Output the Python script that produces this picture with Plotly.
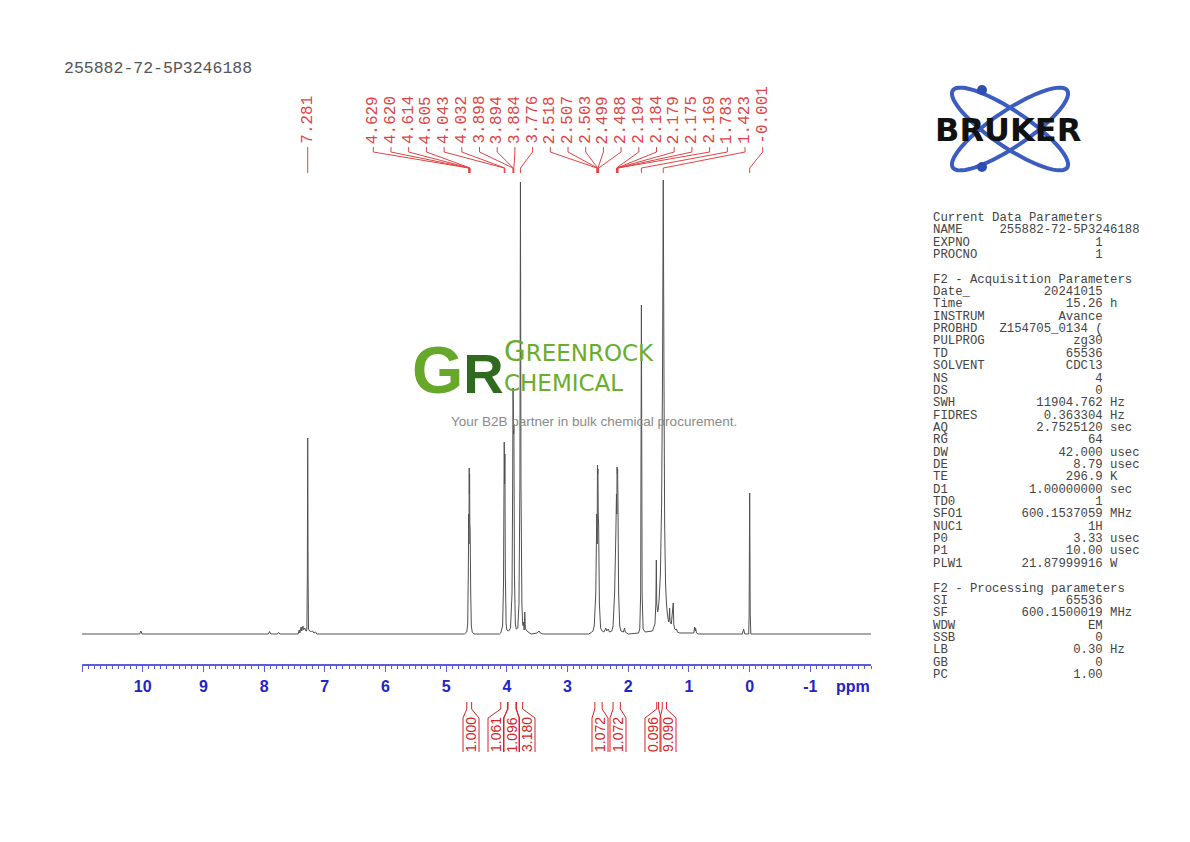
import numpy as np
import plotly.graph_objects as go

W, H = 1190, 842

# spectrum outline: (ppm, intensity above baseline)
spectrum_pts = [
    (11.0, 0), (10.05, 0), (10.03, 3), (10.01, 0),
    (7.93, 0), (7.91, 2.5), (7.89, 0), (7.78, 0), (7.76, 1.5), (7.74, 0),
    (7.44, 0), (7.42, 4), (7.41, 1), (7.39, 7), (7.38, 3), (7.36, 8), (7.35, 4),
    (7.33, 6), (7.31, 3), (7.30, 3), (7.295, 5), (7.287, 60), (7.281, 196),
    (7.275, 60), (7.268, 5), (7.25, 3), (7.22, 2.5), (7.20, 3), (7.18, 1),
    (7.15, 2), (7.13, 0),
    (4.70, 0), (4.66, 2), (4.645, 10), (4.635, 60), (4.629, 120), (4.624, 90),
    (4.620, 166), (4.617, 140), (4.614, 160), (4.610, 110), (4.605, 105),
    (4.595, 40), (4.585, 8), (4.57, 2), (4.54, 0),
    (4.12, 0), (4.10, 1), (4.07, 8), (4.055, 50), (4.043, 192), (4.037, 150),
    (4.032, 180), (4.025, 60), (4.012, 10), (4.00, 4), (3.97, 3),
    (3.94, 6), (3.915, 40), (3.905, 140), (3.898, 246), (3.894, 230),
    (3.888, 200), (3.884, 210), (3.875, 60), (3.86, 10), (3.845, 5),
    (3.82, 6), (3.80, 30), (3.785, 150), (3.776, 452), (3.767, 150),
    (3.752, 30), (3.74, 10), (3.73, 8), (3.72, 12), (3.715, 4), (3.705, 22),
    (3.695, 6), (3.68, 4), (3.65, 2), (3.60, 0), (3.50, 1), (3.47, 3),
    (3.45, 1), (3.40, 0),
    (2.65, 0), (2.60, 2), (2.58, 3), (2.56, 8), (2.535, 40), (2.518, 120),
    (2.512, 90), (2.507, 169), (2.503, 160), (2.499, 165), (2.494, 120),
    (2.488, 110), (2.475, 30), (2.455, 6), (2.43, 3), (2.40, 2), (2.37, 6),
    (2.355, 3), (2.33, 5), (2.31, 2), (2.27, 3), (2.25, 8), (2.225, 40),
    (2.204, 100), (2.194, 140), (2.188, 120), (2.184, 167), (2.179, 160),
    (2.175, 165), (2.169, 130), (2.158, 40), (2.14, 8), (2.12, 3), (2.08, 2),
    (2.06, 6), (2.05, 2), (2.00, 0),
    (1.83, 1), (1.81, 5), (1.795, 40), (1.783, 329), (1.771, 40), (1.755, 5),
    (1.72, 2), (1.60, 3), (1.56, 10), (1.545, 30), (1.537, 74), (1.530, 30),
    (1.515, 22), (1.505, 25), (1.49, 35), (1.47, 60), (1.45, 130),
    (1.435, 260), (1.423, 454), (1.411, 260), (1.40, 110), (1.385, 50),
    (1.37, 30), (1.355, 20), (1.335, 12), (1.325, 15), (1.318, 26),
    (1.311, 12), (1.29, 10), (1.258, 31), (1.250, 10), (1.235, 5), (1.21, 4),
    (1.203, 5), (1.19, 2), (1.15, 1),
    (0.92, 1), (0.906, 7), (0.898, 3), (0.89, 6), (0.875, 1), (0.85, 0),
    (0.12, 0), (0.099, 5), (0.08, 0), (0.015, 0), (0.008, 20), (-0.001, 141),
    (-0.010, 20), (-0.02, 0), (-2.0, 0),
]

peak_labels = ['7.281', '4.629', '4.620', '4.614', '4.605', '4.043', '4.032',
               '3.898', '3.894', '3.884', '3.776', '2.518', '2.507', '2.503',
               '2.499', '2.488', '2.194', '2.184', '2.179', '2.175', '2.169',
               '1.783', '1.423', '-0.001']

integral_vals = ['1.000', '1.061', '1.096', '3.180', '1.072', '1.072', '0.096', '9.090']
integral_from = [4.66, 4.10, 3.98, 3.84, 2.55, 2.25, 1.53, 1.44]
integral_to = [4.58, 3.99, 3.85, 3.74, 2.43, 2.13, 1.50, 1.37]

tick_vals = [11, 10, 9, 8, 7, 6, 5, 4, 3, 2, 1, 0, -1]
tick_text = ['', '10', '9', '8', '7', '6', '5', '4', '3', '2', '1', '0', '-1']

current_params = [('NAME', '255882-72-5P3246188', ''), ('EXPNO', '1', ''),
                  ('PROCNO', '1', '')]
acq_params = [('Date_', '20241015', ''), ('Time', '15.26', 'h'),
              ('INSTRUM', 'Avance', ''), ('PROBHD', 'Z154705_0134 (', ''),
              ('PULPROG', 'zg30', ''), ('TD', '65536', ''),
              ('SOLVENT', 'CDCl3', ''), ('NS', '4', ''), ('DS', '0', ''),
              ('SWH', '11904.762', 'Hz'), ('FIDRES', '0.363304', 'Hz'),
              ('AQ', '2.7525120', 'sec'), ('RG', '64', ''),
              ('DW', '42.000', 'usec'), ('DE', '8.79', 'usec'),
              ('TE', '296.9', 'K'), ('D1', '1.00000000', 'sec'),
              ('TD0', '1', ''), ('SFO1', '600.1537059', 'MHz'),
              ('NUC1', '1H', ''), ('P0', '3.33', 'usec'),
              ('P1', '10.00', 'usec'), ('PLW1', '21.87999916', 'W')]
proc_params = [('SI', '65536', ''), ('SF', '600.1500019', 'MHz'),
               ('WDW', 'EM', ''), ('SSB', '0', ''), ('LB', '0.30', 'Hz'),
               ('GB', '0', ''), ('PC', '1.00', '')]

sample_name = '255882-72-5P3246188'

# ---- layout helpers (pixel positions of the reference page) ----
X0, X1, Y0, Y1 = 82, 871, 180, 664
PPM_L, PPM_R = 11.0, -2.0


def px2ppm(p):
    return PPM_L + (p - X0) * (PPM_R - PPM_L) / (X1 - X0)


def ppm2px(v):
    return X0 + (v - PPM_L) * (X1 - X0) / (PPM_R - PPM_L)


def fx(p):
    return p / W


def fy(p):
    return 1 - p / H


RED = '#e04444'
BLUE = '#2323c8'
shapes = []
annotations = []

# top peak labels with their legs
label_px = [ppm2px(7.281)] + [373.3 + i * 17.7 for i in range(len(peak_labels) - 1)]
for lab, lx in zip(peak_labels, label_px):
    p = float(lab)
    shapes.append(dict(type='path', xref='x', yref='paper',
                       path='M {a},{y1} L {a},{y2} L {b},{y3} L {b},{y4}'.format(
                           a=px2ppm(lx), b=p, y1=fy(147), y2=fy(152), y3=fy(168), y4=fy(173)),
                       line=dict(color=RED, width=1)))
    annotations.append(dict(text=lab, x=fx(lx), y=fy(146), xref='paper', yref='paper',
                            xanchor='center', yanchor='bottom', textangle=-90, showarrow=False,
                            font=dict(family='Liberation Mono', size=16, color=RED)))

# integral brackets and values
integ_label_px = [471, 496, 511.5, 527, 600, 618, 653, 668]
for val, a, b, c in zip(integral_vals, integral_from, integral_to, integ_label_px):
    for edge, box in ((a, c - 8), (b, c + 8)):
        shapes.append(dict(type='path', xref='x', yref='paper',
                           path='M {e},{y1} L {e},{y2} L {k},{y3} L {k},{y4}'.format(
                               e=edge, k=px2ppm(box), y1=fy(702), y2=fy(709), y3=fy(718), y4=fy(752)),
                           line=dict(color='#d42424', width=1)))
    annotations.append(dict(text=val, x=fx(c), y=fy(735), xref='paper', yref='paper',
                            xanchor='center', yanchor='middle', textangle=-90, showarrow=False,
                            font=dict(family='Liberation Sans', size=14, color='#d42424')))

# parameter block
rows = [('Current Data Parameters',)] + current_params + [None, ('F2 - Acquisition Parameters',)] \
    + acq_params + [None, ('F2 - Processing parameters',)] + proc_params
for k, row in enumerate(rows):
    if row is None:
        continue
    if len(row) == 1:
        line = row[0]
    else:
        name, value, unit = row
        line = name.ljust(9) + value.rjust(14) + (' ' + unit if unit else '')
    annotations.append(dict(text=line.replace(' ', '\u00a0'), x=fx(931), y=fy(218 + k * 12.35),
                            xref='paper', yref='paper', xanchor='left', yanchor='middle',
                            showarrow=False,
                            font=dict(family='Liberation Mono', size=12.3, color='#444444')))

# sample name header
annotations.append(dict(text=sample_name, x=fx(62), y=fy(68), xref='paper', yref='paper',
                        xanchor='left', yanchor='middle', showarrow=False,
                        font=dict(family='Liberation Mono', size=16.5, color='#555555')))

# ppm unit at end of axis
annotations.append(dict(text='ppm', x=fx(853), y=fy(686), xref='paper', yref='paper',
                        xanchor='center', yanchor='middle', showarrow=False,
                        font=dict(family='Liberation Sans', size=16, color=BLUE, weight='bold')))

# Bruker logo: two tilted orbits, two dots, text
cx, cy, ea, eb = 1010, 129, 69, 18
t = np.linspace(0, 2 * np.pi, 80)
for th in (np.radians(34), np.radians(-34)):
    xs = cx + ea * np.cos(t) * np.cos(th) - eb * np.sin(t) * np.sin(th)
    ys = cy + ea * np.cos(t) * np.sin(th) + eb * np.sin(t) * np.cos(th)
    path = 'M ' + ' L '.join('{:.5f},{:.5f}'.format(fx(a), fy(b)) for a, b in zip(xs, ys)) + ' Z'
    shapes.append(dict(type='path', xref='paper', yref='paper', path=path,
                       line=dict(color='#3b5cc0', width=4)))
for dx, dy in ((982, 90), (982, 167)):
    shapes.append(dict(type='circle', xref='paper', yref='paper',
                       x0=fx(dx - 5), x1=fx(dx + 5), y0=fy(dy + 5), y1=fy(dy - 5),
                       fillcolor='#2e4fb0', line=dict(width=0)))
annotations.append(dict(text='BRUKER', x=fx(1008), y=fy(130), xref='paper', yref='paper',
                        xanchor='center', yanchor='middle', showarrow=False,
                        font=dict(family='DejaVu Sans', size=32, color='#111111', weight='bold')))

# Greenrock watermark
annotations.append(dict(text="<span style='color:#67a82a;font-size:66px'>G</span>"
                             "<span style='color:#2f6a1f;font-size:56px'>R</span>",
                        x=fx(410), y=fy(370), xref='paper', yref='paper',
                        xanchor='left', yanchor='middle', showarrow=False,
                        font=dict(family='Liberation Sans', size=56, weight='bold')))
annotations.append(dict(text="<span style='font-size:28px'>G</span>REENROCK<br>CHEMICAL",
                        x=fx(502), y=fy(365), xref='paper', yref='paper', align='left',
                        xanchor='left', yanchor='middle', showarrow=False,
                        font=dict(family='DejaVu Sans', size=23, color='#6aad2c')))
annotations.append(dict(text='Your B2B partner in bulk chemical procurement.', x=fx(594), y=fy(421),
                        xref='paper', yref='paper', xanchor='center', yanchor='middle', showarrow=False,
                        font=dict(family='Liberation Sans', size=13.5, color='#8a8a8a')))

spec_ppm = [p for p, _ in spectrum_pts]
spec_int = [v for _, v in spectrum_pts]

fig = go.Figure(go.Scatter(x=spec_ppm, y=spec_int, mode='lines',
                           line=dict(color='#505050', width=1, simplify=False),
                           hoverinfo='skip'))

fig.update_layout(
    width=W, height=H,
    margin=dict(l=0, r=0, t=0, b=0),
    paper_bgcolor='white', plot_bgcolor='white',
    showlegend=False,
    xaxis=dict(domain=[fx(X0), fx(X1)], range=[PPM_L, PPM_R], showgrid=False, zeroline=False,
               showline=True, linecolor='#5c5cd4', linewidth=1.5,
               ticks='outside', ticklen=6, tickwidth=1, tickcolor='#5c5cd4',
               tickvals=tick_vals, ticktext=tick_text, ticklabelstandoff=1,
               tickfont=dict(family='Liberation Sans', size=16, color=BLUE, weight='bold'),
               minor=dict(dtick=0.1, tick0=0, ticks='outside', ticklen=3, tickwidth=1,
                          tickcolor='#5c5cd4', showgrid=False)),
    yaxis=dict(domain=[fy(Y1), fy(Y0)], range=[-30, 454], visible=False),
    shapes=shapes,
    annotations=annotations,
)

# page body margin would shift the figure; drop it
fig.write_html('out.html', config={'displayModeBar': False},
               post_script="document.body.style.margin='0';")
